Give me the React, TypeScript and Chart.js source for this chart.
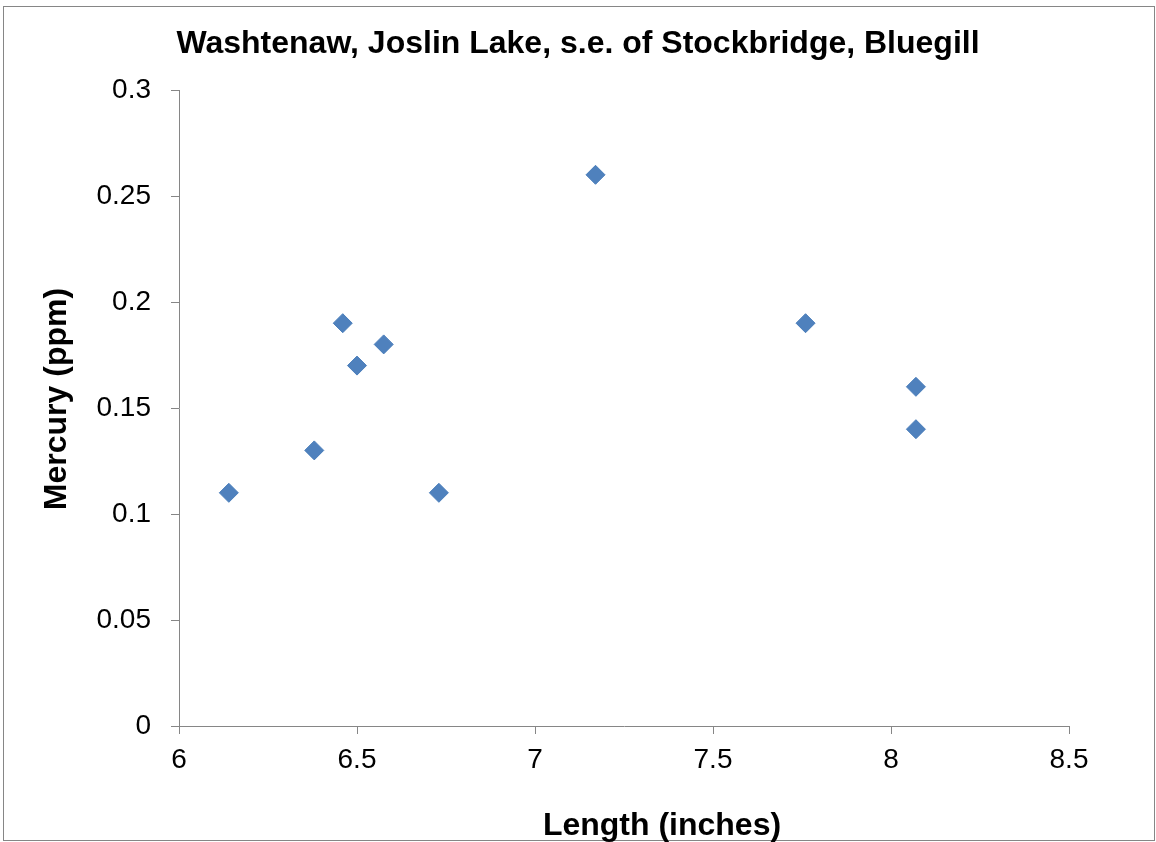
import React, { useEffect, useRef } from "react";
import { Chart, registerables } from "chart.js";

Chart.register(...registerables);

const chartTitle = "Washtenaw, Joslin Lake, s.e. of Stockbridge, Bluegill";
const xAxisTitle = "Length (inches)";
const yAxisTitle = "Mercury (ppm)";
const lengths = [6.14, 6.38, 6.46, 6.5, 6.575, 6.73, 7.17, 7.76, 8.07, 8.07];
const mercury = [0.11, 0.13, 0.19, 0.17, 0.18, 0.11, 0.26, 0.19, 0.16, 0.14];
const xMin = 6;
const xMax = 8.5;
const xStep = 0.5;
const yMin = 0;
const yMax = 0.3;
const yStep = 0.05;

const FONT = "'Liberation Sans', Arial, sans-serif";
const AXIS_GRAY = "#868686";

const fmt = (v: number | string) => String(Number(Number(v).toFixed(4)));

// Excel places the axis titles slightly off the plot-area centre
const TITLE_SHIFT: Record<string, [number, number]> = { x: [38, 2], y: [0, -9] };

const frame = {
  id: "frame",
  afterLayout(chart: any) {
    const tb = chart.titleBlock;
    if (tb) {
      tb.left = 0;
      tb.right = chart.width;
      tb.width = chart.width;
    }
    for (const id of Object.keys(TITLE_SHIFT)) {
      const sc = chart.scales[id];
      if (!sc || sc.__shifted) continue;
      const orig = sc.drawTitle;
      const [dx, dy] = TITLE_SHIFT[id];
      sc.drawTitle = function (...args: any[]) {
        this.ctx.save();
        this.ctx.translate(dx, dy);
        orig.apply(this, args);
        this.ctx.restore();
      };
      sc.__shifted = true;
    }
  },
  beforeDraw(chart: any) {
    const { ctx, width, height } = chart;
    ctx.save();
    ctx.fillStyle = "#ffffff";
    ctx.fillRect(0, 0, width, height);
    ctx.strokeStyle = AXIS_GRAY;
    ctx.lineWidth = 1;
    ctx.strokeRect(3.5, 6.5, 1151, 834);
    ctx.restore();
  },
};

export default function App() {
  const ref = useRef<HTMLCanvasElement>(null);
  useEffect(() => {
    if (!ref.current) return;
    const points = lengths.map((x, i) => ({ x, y: mercury[i] }));
    const chart = new Chart(ref.current, {
      type: "scatter",
      data: {
        datasets: [
          {
            data: points,
            pointStyle: "rectRot",
            pointRadius: 9.5,
            pointHoverRadius: 9.5,
            backgroundColor: "#4F81BD",
            borderColor: "#4A7EBB",
            borderWidth: 1,
          },
        ],
      },
      options: {
        animation: false,
        responsive: false,
        layout: { padding: { left: 0, right: 87, top: 0, bottom: 0 } },
        plugins: {
          legend: { display: false },
          tooltip: { enabled: false },
          title: {
            display: true,
            text: chartTitle,
            color: "#000",
            font: { family: FONT, size: 32, weight: "bold" },
            padding: { top: 25, bottom: 26.6 },
          },
        },
        scales: {
          x: {
            type: "linear",
            min: xMin,
            max: xMax,
            ticks: {
              stepSize: xStep,
              color: "#000",
              font: { family: FONT, size: 28 },
              padding: 9,
              maxRotation: 0,
              callback: (v: any) => fmt(v),
            },
            grid: {
              drawOnChartArea: false,
              drawTicks: true,
              tickLength: 8,
              color: AXIS_GRAY,
            },
            border: { display: true, color: AXIS_GRAY, width: 1 },
            title: {
              display: true,
              text: xAxisTitle,
              color: "#000",
              font: { family: FONT, size: 32, weight: "bold" },
              padding: { top: 0, bottom: -1 },
            },
            afterFit(scale: any) {
              scale.height = 116;
            },
          },
          y: {
            type: "linear",
            min: yMin,
            max: yMax,
            ticks: {
              stepSize: yStep,
              color: "#000",
              font: { family: FONT, size: 28 },
              padding: 20,
              callback: (v: any) => fmt(v),
            },
            grid: {
              drawOnChartArea: false,
              drawTicks: true,
              tickLength: 8,
              color: AXIS_GRAY,
            },
            border: { display: true, color: AXIS_GRAY, width: 1 },
            title: {
              display: true,
              text: yAxisTitle,
              color: "#000",
              font: { family: FONT, size: 32, weight: "bold" },
              padding: { top: 38, bottom: 0 },
            },
            afterFit(scale: any) {
              scale.width = 179;
            },
          },
        },
      },
      plugins: [frame],
    });
    return () => chart.destroy();
  }, []);
  return (
    <div style={{ position: "absolute", left: 0, top: 0, width: 1156, height: 842 }}>
      <canvas ref={ref} width={1156} height={842} />
    </div>
  );
}
